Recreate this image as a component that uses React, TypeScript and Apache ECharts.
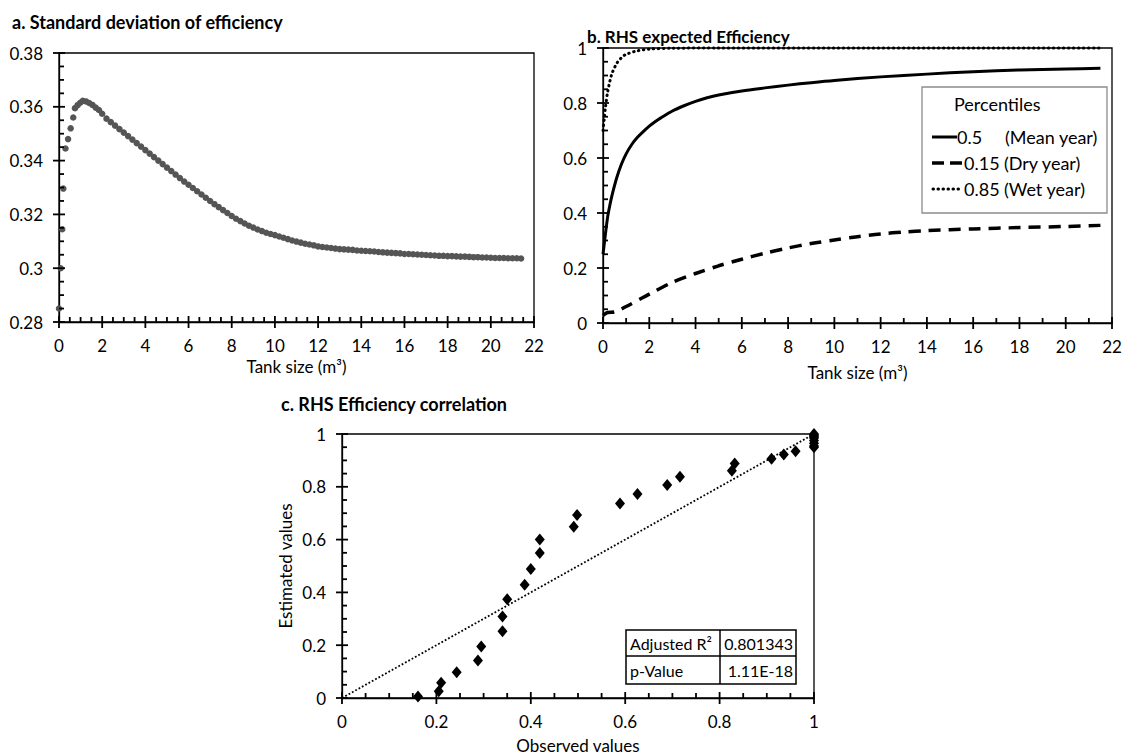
import React, { useEffect, useRef } from "react";
import * as echarts from "echarts";

// ---------- Panel a: standard deviation of efficiency ----------
const sdTank = [
  0, 0.08, 0.15, 0.2, 0.3, 0.42, 0.54, 0.66, 0.74, 0.86, 0.98, 1.1, 1.25, 1.4, 1.55, 1.7, 1.85, 2.0, 2.2,
  2.4, 2.6, 2.8, 3.0, 3.2, 3.4, 3.6, 3.8, 4.0, 4.2, 4.4, 4.6, 4.8, 5.0, 5.2, 5.4, 5.6, 5.8, 6.0,
  6.2, 6.4, 6.6, 6.8, 7.0, 7.2, 7.4, 7.6, 7.8, 8.0, 8.2, 8.4, 8.6, 8.8, 9.0, 9.2, 9.4, 9.6, 9.8, 10.0,
  10.2, 10.4, 10.6, 10.8, 11.0, 11.2, 11.4, 11.6, 11.8, 12.0, 12.2, 12.4, 12.6, 12.8, 13.0, 13.2, 13.4,
  13.6, 13.8, 14.0, 14.2, 14.4, 14.6, 14.8, 15.0, 15.2, 15.4, 15.6, 15.8, 16.0, 16.2, 16.4, 16.6, 16.8,
  17.0, 17.2, 17.4, 17.6, 17.8, 18.0, 18.2, 18.4, 18.6, 18.8, 19.0, 19.2, 19.4, 19.6, 19.8, 20.0, 20.2,
  20.4, 20.6, 20.8, 21.0, 21.2, 21.4,
];
const sdValue = [
  0.285, 0.3, 0.3145, 0.3296, 0.3445, 0.348, 0.352, 0.356, 0.3595, 0.3606, 0.3615, 0.3622, 0.362, 0.3614,
  0.3607, 0.3597, 0.3588, 0.3574, 0.3556,
  0.3543, 0.353, 0.3517, 0.3504, 0.3491, 0.3478, 0.3465, 0.3452, 0.3439, 0.3426, 0.3413, 0.34, 0.3387,
  0.3374, 0.3361, 0.3348, 0.3335, 0.3322, 0.331,
  0.3298, 0.3286, 0.3274, 0.3262, 0.325, 0.3238, 0.3227, 0.3216, 0.3205, 0.3194, 0.3184, 0.3175, 0.3166,
  0.3158, 0.3151, 0.3144, 0.3138, 0.3132, 0.3127, 0.3123,
  0.3118, 0.3113, 0.3108, 0.3103, 0.3099, 0.3095, 0.3091, 0.3088, 0.3085, 0.3081, 0.3079, 0.3077, 0.3075,
  0.3073, 0.3071, 0.307, 0.3069,
  0.3068, 0.3066, 0.3065, 0.3064, 0.3063, 0.3062, 0.306, 0.3059, 0.3058, 0.3057, 0.3056, 0.3055, 0.3053,
  0.3053, 0.3052, 0.3051, 0.305,
  0.3049, 0.3048, 0.3047, 0.3046, 0.3046, 0.3045, 0.3045, 0.3044, 0.3043, 0.3043, 0.3042, 0.3041, 0.3041,
  0.304, 0.304, 0.3039, 0.3038,
  0.3038, 0.3038, 0.3037, 0.3037, 0.3037, 0.3036,
];

// ---------- Panel b: RHS expected efficiency ----------
const meanTank = [0, 0.1, 0.2, 0.3, 0.4, 0.6, 0.8, 1.0, 1.25, 1.5, 1.75, 2.0, 2.25, 2.5, 3.0, 3.5, 4.0, 4.5, 5.0, 6.0, 7.0, 8.0, 9.0, 10.0, 12.0, 14.0, 16.0, 18.0, 20.0, 21.5];
const meanEff = [0.25, 0.32, 0.385, 0.43, 0.468, 0.53, 0.578, 0.615, 0.65, 0.676, 0.697, 0.716, 0.732, 0.746, 0.771, 0.79, 0.806, 0.819, 0.829, 0.844, 0.855, 0.865, 0.874, 0.882, 0.895, 0.905, 0.914, 0.92, 0.924, 0.926];
const dryTank = [0, 0.2, 0.5, 1.0, 2.0, 3.0, 4.0, 5.0, 6.0, 7.0, 8.0, 9.0, 10.0, 11.0, 12.0, 13.0, 14.0, 16.0, 18.0, 20.0, 21.5];
const dryEff = [0.028, 0.038, 0.04, 0.06, 0.105, 0.148, 0.18, 0.208, 0.232, 0.254, 0.273, 0.289, 0.302, 0.314, 0.324, 0.331, 0.336, 0.342, 0.347, 0.351, 0.355];
const wetTank = [0, 0.05, 0.1, 0.2, 0.3, 0.4, 0.6, 0.8, 1.0, 1.5, 2.0, 3.0, 5.0, 10.0, 15.0, 21.5];
const wetEff = [0.7, 0.74, 0.78, 0.84, 0.88, 0.91, 0.945, 0.965, 0.977, 0.99, 0.996, 0.999, 1.0, 1.0, 1.0, 1.0];

// ---------- Panel c: RHS efficiency correlation ----------
const observed = [
  0.161, 0.205, 0.21, 0.243, 0.288, 0.295, 0.34, 0.34, 0.35, 0.387, 0.4, 0.419, 0.419, 0.491, 0.498,
  0.589, 0.626, 0.689, 0.716, 0.826, 0.832, 0.91, 0.936, 0.961, 1.0, 1.0, 1.0, 1.0, 1.0, 1.0, 1.0, 1.0,
];
const estimated = [
  0.006, 0.026, 0.058, 0.098, 0.142, 0.195, 0.253, 0.309, 0.374, 0.429, 0.489, 0.549, 0.6, 0.649, 0.693,
  0.737, 0.773, 0.807, 0.838, 0.861, 0.888, 0.906, 0.922, 0.935, 1.0, 0.995, 0.99, 0.985, 0.975, 0.965,
  0.955, 0.95,
];
const trendObserved = [0, 1];
const trendEstimated = [0, 1];

// ---------- Axis tick values (major) and minor subdivisions ----------
const tankTicks = [0, 2, 4, 6, 8, 10, 12, 14, 16, 18, 20, 22];
const sdTicks = [0.28, 0.3, 0.32, 0.34, 0.36, 0.38];
const effTicks = [0, 0.2, 0.4, 0.6, 0.8, 1];
const minorSplitA = { x: 4, y: 4 };
const minorSplitB = { x: 2, y: 4 };
const minorSplitC = { x: 4, y: 4 };

const statLabels = ["Adjusted R\u00B2", "p-Value"];
const statValues = ["0.801343", "1.11E-18"];

const titleA = "a. Standard deviation of efficiency";
const titleB = "b. RHS expected Efficiency";
const titleC = "c. RHS Efficiency correlation";
const legendTitle = "Percentiles";
const legendValues = ["0.5", "0.15", "0.85"];
const legendNotes = ["(Mean year)", "(Dry year)", "(Wet year)"];

const FONT = "Lato";
const pairs = (xs: number[], ys: number[]) => xs.map((x, i) => [x, ys[i]]);
const minorBetween = (major: number[], split: number) => {
  const out: number[] = [];
  for (let i = 0; i < major.length - 1; i++) {
    for (let k = 1; k < split; k++) out.push(major[i] + ((major[i + 1] - major[i]) * k) / split);
  }
  return out;
};

function mainAxis(o: any) {
  return {
    type: "value",
    gridIndex: o.grid,
    position: o.position,
    min: o.min,
    max: o.max,
    interval: o.interval,
    axisLine: { show: true, onZero: false, lineStyle: { color: "#000", width: 1.3 } },
    axisTick: { show: false },
    minorTick: { show: false },
    splitLine: { show: false },
    axisLabel: { color: "#000", fontSize: 17, fontFamily: FONT, margin: o.margin },
    name: o.name,
    nameLocation: "middle",
    nameGap: o.nameGap,
    nameTextStyle: { color: "#000", fontSize: 17, fontFamily: FONT },
  };
}

export default function App() {
  const ref = useRef<HTMLDivElement>(null);
  useEffect(() => {
    if (!ref.current) return;
    const chart = echarts.init(ref.current, null, { renderer: "svg" });

    const ax = {
      ax: { grid: 0, position: "bottom", min: 0, max: 22, interval: 2, margin: 15, name: "Tank size (m\u00B3)", nameGap: 36 },
      ay: { grid: 0, position: "left", min: 0.28, max: 0.38, interval: 0.02, margin: 16 },
      bx: { grid: 1, position: "bottom", min: 0, max: 22, interval: 2, margin: 15, name: "Tank size (m\u00B3)", nameGap: 41 },
      by: { grid: 1, position: "left", min: 0, max: 1, interval: 0.2, margin: 16 },
      cx: { grid: 2, position: "bottom", min: 0, max: 1, interval: 0.2, margin: 15, name: "Observed values", nameGap: 39 },
      cy: { grid: 2, position: "left", min: 0, max: 1, interval: 0.2, margin: 16, name: "Estimated values", nameGap: 48 },
    };

    const gridStyle = { show: true, borderColor: "#000", borderWidth: 1.3, backgroundColor: "transparent" };

    const txt = (x: number, y: number, text: string, size: number, opts: any = {}) => ({
      type: "text",
      x,
      y,
      z: 100,
      style: {
        text,
        fill: "#000",
        font: `${opts.bold ? "bold " : ""}${size}px ${FONT}`,
        align: opts.align || "left",
        verticalAlign: "middle",
      },
    });
    const seg = (x1: number, y1: number, x2: number, y2: number, w: number, dash?: number[], cap?: string) => ({
      type: "line",
      z: 100,
      shape: { x1, y1, x2, y2 },
      style: { stroke: "#000", lineWidth: w, lineDash: dash, lineCap: cap || "butt" },
    });

    const legendRows = [137, 163, 189];

    const baseGraphic: any[] = [
      txt(12, 22, titleA, 18, { bold: true }),
      txt(587, 36, titleB, 17, { bold: true }),
      txt(281, 404, titleC, 18, { bold: true }),
      {
        type: "rect",
        z: 99,
        shape: { x: 922, y: 87, width: 185, height: 126 },
        style: { fill: "#fff", stroke: "#8c8c8c", lineWidth: 1.3 },
      },
      txt(954, 104, legendTitle, 18),
      seg(932, legendRows[0], 957, legendRows[0], 3),
      seg(932, legendRows[1], 944, legendRows[1], 3.5),
      seg(950, legendRows[1], 962, legendRows[1], 3.5),
      seg(933, legendRows[2], 960, legendRows[2], 3, [0.5, 4.5], "round"),
      txt(957, legendRows[0], legendValues[0], 18),
      txt(1005, legendRows[0], legendNotes[0], 18),
      txt(964, legendRows[1], legendValues[1], 18),
      txt(1004, legendRows[1], legendNotes[1], 18),
      txt(964, legendRows[2], legendValues[2], 18),
      txt(1004, legendRows[2], legendNotes[2], 18),
      {
        type: "rect",
        z: 99,
        shape: { x: 626, y: 630, width: 170, height: 54 },
        style: { fill: "#fff", stroke: "#000", lineWidth: 1.5 },
      },
      seg(720, 630, 720, 684, 1.5),
      seg(626, 656, 796, 656, 1.5),
      txt(630, 643, statLabels[0], 16),
      txt(630, 670, statLabels[1], 16),
      txt(793, 643, statValues[0], 16, { align: "right" }),
      txt(793, 670, statValues[1], 16, { align: "right" }),
    ];

    chart.setOption({
      animation: false,
      backgroundColor: "#fff",
      grid: [
        { left: 59, top: 53, width: 475, height: 269, ...gridStyle },
        { left: 603, top: 48, width: 509, height: 275, ...gridStyle },
        { left: 342, top: 434, width: 472, height: 265, ...gridStyle },
      ],
      xAxis: [mainAxis(ax.ax), mainAxis(ax.bx), mainAxis(ax.cx)],
      yAxis: [mainAxis(ax.ay), mainAxis(ax.by), mainAxis(ax.cy)],
      series: [
        {
          name: "Standard deviation",
          type: "scatter",
          xAxisIndex: 0,
          yAxisIndex: 0,
          symbol: "circle",
          symbolSize: 6.5,
          itemStyle: { color: "#555", opacity: 1 },
          data: pairs(sdTank, sdValue),
        },
        {
          name: "0.5 (Mean year)",
          type: "line",
          xAxisIndex: 1,
          yAxisIndex: 1,
          symbol: "none",
          smooth: 0.3,
          clip: false,
          lineStyle: { color: "#000", width: 3 },
          data: pairs(meanTank, meanEff),
        },
        {
          name: "0.15 (Dry year)",
          type: "line",
          xAxisIndex: 1,
          yAxisIndex: 1,
          symbol: "none",
          smooth: 0.3,
          clip: false,
          lineStyle: { color: "#000", width: 3.5, type: [12, 8] },
          data: pairs(dryTank, dryEff),
        },
        {
          name: "0.85 (Wet year)",
          type: "line",
          xAxisIndex: 1,
          yAxisIndex: 1,
          symbol: "none",
          smooth: 0.3,
          clip: false,
          lineStyle: { color: "#000", width: 3, type: [0.5, 4.5], cap: "round" },
          data: pairs(wetTank, wetEff),
        },
        {
          name: "Trend",
          type: "line",
          xAxisIndex: 2,
          yAxisIndex: 2,
          symbol: "none",
          lineStyle: { color: "#000", width: 1.8, type: [1.8, 2] },
          data: pairs(trendObserved, trendEstimated),
        },
        {
          name: "Observed vs estimated",
          type: "scatter",
          xAxisIndex: 2,
          yAxisIndex: 2,
          symbol: "diamond",
          symbolSize: [10, 12],
          clip: false,
          itemStyle: { color: "#000", opacity: 1 },
          data: pairs(observed, estimated),
        },
      ],
      graphic: baseGraphic,
    });

    // Tick marks placed through the axes' own scales (convertToPixel)
    const tickGraphics: any[] = [];
    const addTicks = (gridIndex: number, horizontal: boolean, major: number[], split: number, other: number) => {
      const mk = (v: number, inL: number, outL: number) => {
        const pt = chart.convertToPixel({ gridIndex } as any, horizontal ? [v, other] : [other, v]) as any;
        if (!pt || !isFinite(pt[0]) || !isFinite(pt[1])) return;
        const shape = horizontal
          ? { x1: pt[0], y1: pt[1] - inL, x2: pt[0], y2: pt[1] + outL }
          : { x1: pt[0] - outL, y1: pt[1], x2: pt[0] + inL, y2: pt[1] };
        tickGraphics.push({ type: "line", z: 50, silent: true, shape, style: { stroke: "#000", lineWidth: 1.8 } });
      };
      major.forEach((v) => mk(v, 6, 6));
      minorBetween(major, split).forEach((v) => mk(v, 5, 0));
    };
    addTicks(0, true, tankTicks, minorSplitA.x, sdTicks[0]);
    addTicks(0, false, sdTicks, minorSplitA.y, tankTicks[0]);
    addTicks(1, true, tankTicks, minorSplitB.x, effTicks[0]);
    addTicks(1, false, effTicks, minorSplitB.y, tankTicks[0]);
    addTicks(2, true, effTicks, minorSplitC.x, effTicks[0]);
    addTicks(2, false, effTicks, minorSplitC.y, effTicks[0]);

    chart.setOption({ graphic: [...baseGraphic, ...tickGraphics] });

    return () => chart.dispose();
  }, []);
  return <div ref={ref} style={{ position: "fixed", left: 0, top: 0, width: 1126, height: 755, background: "#fff" }} />;
}
